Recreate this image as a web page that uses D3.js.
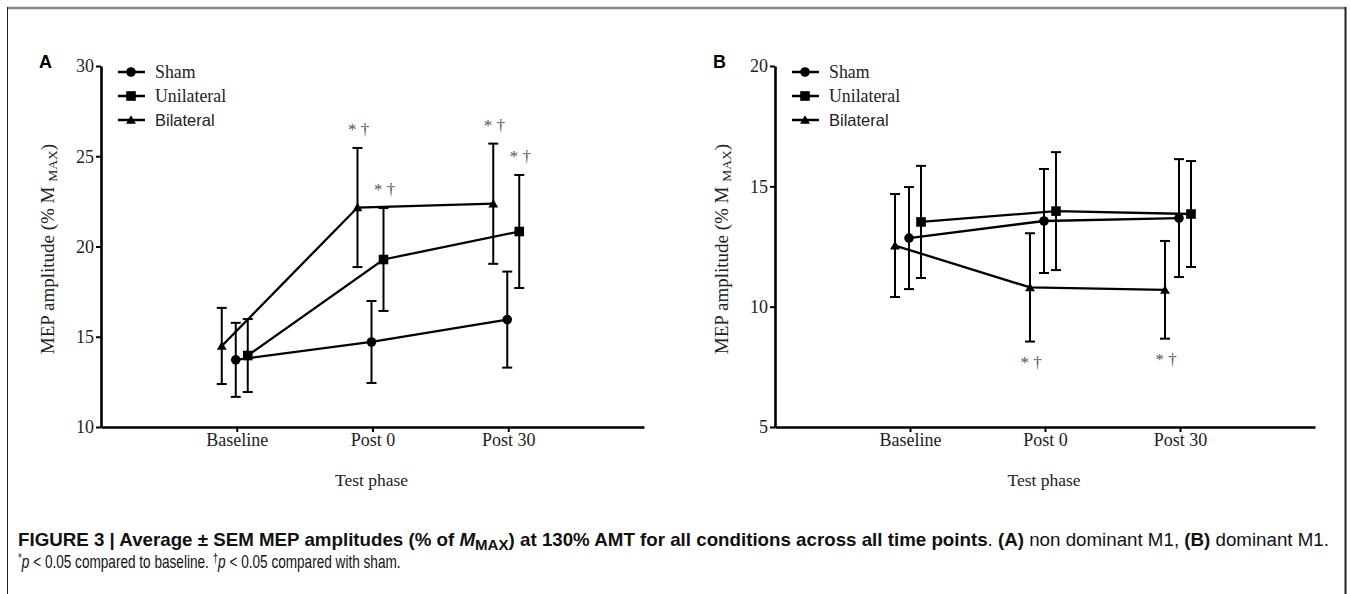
<!DOCTYPE html>
<html>
<head>
<meta charset="utf-8">
<script src="https://cdn.jsdelivr.net/npm/d3@7"></script>
<style>
  body { margin: 0; background: #fff; }
  svg { display: block; }
  .serif { font-family: "Liberation Serif", "Times New Roman", serif; }
</style>
</head>
<body>
<div id="chart"></div>
<script>
const width = 1350, height = 594

// test phases on the x axis (positions 1..3 of a 0..4 axis)
const phases = ["Baseline", "Post 0", "Post 30"]
const groups = ["Sham", "Unilateral", "Bilateral"]

// panel A: non dominant M1 (mean and SEM, % Mmax)
const shamA = [13.72, 14.71, 15.95]
const shamASem = [2.05, 2.27, 2.66]
const uniA = [13.96, 19.28, 20.83]
const uniASem = [2.02, 2.85, 3.13]
const bilA = [14.49, 22.16, 22.37]
const bilASem = [2.11, 3.30, 3.33]

// panel B: dominant M1
const shamB = [12.85, 13.56, 13.68]
const shamBSem = [2.12, 2.16, 2.45]
const uniB = [13.52, 13.97, 13.85]
const uniBSem = [2.33, 2.45, 2.20]
const bilB = [12.54, 10.80, 10.70]
const bilBSem = [2.14, 2.25, 2.03]

const yTicksA = [10, 15, 20, 25, 30]
const yTicksB = [5, 10, 15, 20]

// significance marks: group, phase index, above/below error bar
const starsA = [["Bilateral", 1, "up"], ["Unilateral", 1, "up"], ["Bilateral", 2, "up"], ["Unilateral", 2, "up"]]
const starsB = [["Bilateral", 1, "down"], ["Bilateral", 2, "down"]]

// horizontal dodge of each group, px
const dodge = { Sham: -1, Unilateral: 11, Bilateral: -15 }

const svg = d3.select("#chart").append("svg")
  .attr("width", width).attr("height", height)

// frame
svg.append("line").attr("x1", 7).attr("x2", 1346).attr("y1", 8).attr("y2", 8)
  .attr("stroke", "#888").attr("stroke-width", 2.5)
svg.append("line").attr("x1", 7.5).attr("x2", 7.5).attr("y1", 7).attr("y2", height)
  .attr("stroke", "#222").attr("stroke-width", 1)
svg.append("line").attr("x1", 1345.5).attr("x2", 1345.5).attr("y1", 7).attr("y2", height)
  .attr("stroke", "#222").attr("stroke-width", 2)

function marker(sel, group, cx, cy) {
  if (group === "Sham") {
    sel.append("circle").attr("cx", cx).attr("cy", cy).attr("r", 4.8).attr("fill", "#000")
  } else if (group === "Unilateral") {
    sel.append("rect").attr("x", cx - 4.8).attr("y", cy - 4.8).attr("width", 9.6).attr("height", 9.6).attr("fill", "#000")
  } else {
    sel.append("path").attr("d", d3.symbol(d3.symbolTriangle, 42)())
      .attr("transform", `translate(${cx},${cy + 1})`).attr("fill", "#000")
  }
}

function panel(opts) {
  const x = d3.scaleLinear().domain([0, 4]).range([opts.left, opts.right])
  const y = d3.scaleLinear().domain(opts.yDomain).range([427, 66])
  const g = svg.append("g")

  // panel letter
  g.append("text").attr("x", opts.left - 62).attr("y", 68)
    .attr("font-family", "Liberation Sans, Arial, sans-serif")
    .attr("font-weight", "bold").attr("font-size", 18).text(opts.letter)

  // axes
  const yAxis = g.append("g").attr("transform", `translate(${opts.left},0)`)
    .call(d3.axisLeft(y).tickValues(opts.yTicks).tickSize(5).tickSizeOuter(0).tickPadding(2))
  const xAxis = g.append("g").attr("transform", `translate(0,427)`)
    .call(d3.axisBottom(x).tickValues([1, 2, 3]).tickFormat(i => phases[i - 1])
      .tickSize(5).tickSizeOuter(0).tickPadding(1))
  ;[yAxis, xAxis].forEach(a => {
    a.select(".domain").attr("stroke-width", 2.6)
    a.selectAll(".tick line").attr("stroke-width", 2)
    a.selectAll(".tick text").attr("class", "serif").attr("font-size", 18).attr("fill", "#222")
  })

  // axis titles
  g.append("text").attr("class", "serif").attr("font-size", 17.5).attr("fill", "#222")
    .attr("text-anchor", "middle")
    .attr("x", (opts.left + opts.right) / 2 - 1).attr("y", 486).text("Test phase")
  const yl = g.append("text").attr("class", "serif").attr("font-size", 19).attr("fill", "#222")
    .attr("text-anchor", "middle")
    .attr("transform", `translate(${opts.left - 47},249) rotate(-90)`)
  yl.append("tspan").text("MEP amplitude (% M ")
  yl.append("tspan").attr("font-size", 13.5).attr("baseline-shift", "-3").text("MAX")
  yl.append("tspan").text(")")

  const px = (grp, i) => x(i + 1) + dodge[grp]

  // lines
  groups.forEach(grp => {
    const vals = opts.means[grp]
    g.append("path")
      .datum(vals)
      .attr("fill", "none").attr("stroke", "#000").attr("stroke-width", 2.3)
      .attr("d", d3.line().x((d, i) => px(grp, i)).y(d => y(d)))
  })

  // error bars
  groups.forEach(grp => {
    opts.means[grp].forEach((m, i) => {
      const s = opts.sems[grp][i], cx = px(grp, i)
      const eb = g.append("g").attr("stroke", "#000").attr("stroke-width", 2)
      eb.append("line").attr("x1", cx).attr("x2", cx).attr("y1", y(m + s)).attr("y2", y(m - s))
      ;[m + s, m - s].forEach(v => {
        eb.append("line").attr("x1", cx - 5).attr("x2", cx + 5).attr("y1", y(v)).attr("y2", y(v))
      })
    })
  })

  // markers
  groups.forEach(grp => {
    opts.means[grp].forEach((m, i) => marker(g, grp, px(grp, i), y(m)))
  })

  // significance
  opts.stars.forEach(([grp, i, dir]) => {
    const m = opts.means[grp][i], s = opts.sems[grp][i]
    const yy = dir === "up" ? y(m + s) - 13 : y(m - s) + 26
    g.append("text").attr("class", "serif").attr("font-size", 17).attr("fill", "#555")
      .attr("text-anchor", "middle").attr("x", px(grp, i) + 1).attr("y", yy)
      .text("* \u2020")
  })

  // legend
  groups.forEach((grp, k) => {
    const ly = 72 + k * 24
    const lx = opts.left + 17
    g.append("line").attr("x1", lx).attr("x2", lx + 27).attr("y1", ly).attr("y2", ly)
      .attr("stroke", "#000").attr("stroke-width", 2.5)
    marker(g, grp, lx + 13, ly)
    g.append("text").attr("x", lx + 37).attr("y", ly + 6)
      .attr("font-family", grp === "Bilateral" ? "Liberation Sans, Arial, sans-serif" : "Liberation Serif, serif")
      .attr("font-size", grp === "Bilateral" ? 16.5 : 17.8).attr("fill", "#222").text(grp)
  })
}

panel({
  letter: "A", left: 101, right: 644, yDomain: [10, 30], yTicks: yTicksA,
  means: { Sham: shamA, Unilateral: uniA, Bilateral: bilA },
  sems: { Sham: shamASem, Unilateral: uniASem, Bilateral: bilASem },
  stars: starsA
})
panel({
  letter: "B", left: 775, right: 1315, yDomain: [5, 20], yTicks: yTicksB,
  means: { Sham: shamB, Unilateral: uniB, Bilateral: bilB },
  sems: { Sham: shamBSem, Unilateral: uniBSem, Bilateral: bilBSem },
  stars: starsB
})

// caption
const cap = svg.append("g")
  .attr("font-family", "Liberation Sans, Arial, sans-serif")
  .attr("font-size", 18).attr("fill", "#111")
const line1 = cap.append("text").attr("x", 0).attr("y", 0)
const parts1 = [
  ["FIGURE 3 | Average \u00b1 SEM MEP amplitudes (% of ", "bold"],
  ["M", "bold", "italic"],
  ["MAX", "bold", null, "sub"],
  [") at 130% AMT for all conditions across all time points", "bold"],
  [". ", "normal"],
  ["(A)", "bold"],
  [" non dominant M1, ", "normal"],
  ["(B)", "bold"],
  [" dominant M1.", "normal"]
]
parts1.forEach(([t, w, st, sh]) => {
  const ts = line1.append("tspan").attr("font-weight", w).text(t)
  if (st) ts.attr("font-style", st)
  if (sh) ts.attr("baseline-shift", "-4").attr("font-size", 14.5)
})
const line2 = cap.append("text").attr("x", 0).attr("y", 0)
const parts2 = [
  ["*", null, "super"], ["p", "italic"], [" < 0.05 compared to baseline. ", null],
  ["\u2020", null, "super"], ["p", "italic"], [" < 0.05 compared with sham.", null]
]
parts2.forEach(([t, st, sh]) => {
  const ts = line2.append("tspan").text(t)
  if (st) ts.attr("font-style", st)
  if (sh) ts.attr("baseline-shift", "6").attr("font-size", 13)
})
const sx1 = 1312 / line1.node().getComputedTextLength()
const sx2 = 383 / line2.node().getComputedTextLength()
line1.attr("transform", `translate(18,546) scale(${sx1},1)`)
line2.attr("transform", `translate(18,568) scale(${sx2},1)`)
</script>
</body>
</html>
